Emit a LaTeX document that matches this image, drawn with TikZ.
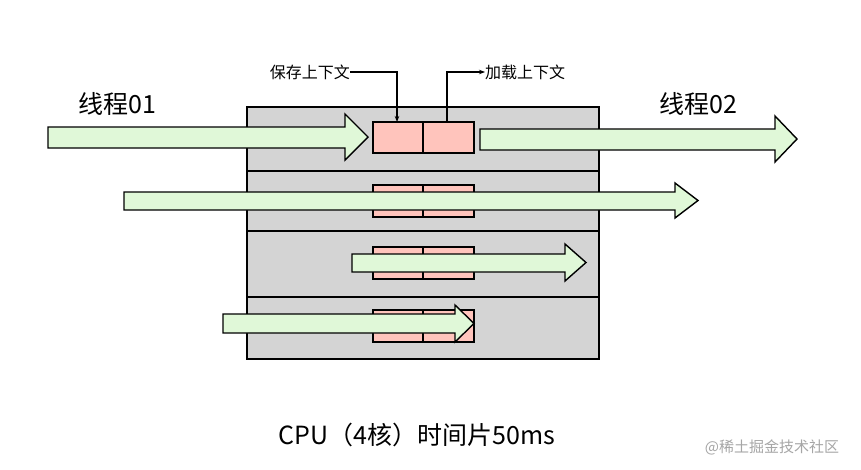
\documentclass[tikz,border=0pt]{standalone}
\usepackage{fontspec}
\setmainfont{Noto Sans CJK SC}
\usetikzlibrary{arrows.meta}
\definecolor{pk}{HTML}{FFC4BC}
\definecolor{gr}{HTML}{E0F8D8}
\definecolor{gy}{HTML}{D4D4D4}
\begin{document}
\begin{tikzpicture}[x=1pt,y=-1pt,
 row/.style={fill=gy,draw=black,line width=1.5pt},
 pbox/.style={fill=pk,draw=black,line width=1.4pt},
 arr/.style={fill=gr,draw=black,line width=1.4pt,line join=miter},
 lbl/.style={font=\fontsize{16}{18}\selectfont,inner sep=0pt},
 big/.style={font=\fontsize{25}{28}\selectfont,inner sep=0pt}]
\useasboundingbox (0,0) rectangle (861,469);
\fill[white] (0,0) rectangle (861,469);
\newcommand\fatarrow[7]{%
 \draw[arr] (#1,#4) -- (#2,#4) -- (#2,#6) -- (#3,{(#6+#7)/2}) -- (#2,#7) -- (#2,#5) -- (#1,#5) -- cycle;}
\draw[row] (247,107) rectangle (599,171);
\draw[row] (247,171) rectangle (599,231);
\draw[row] (247,231) rectangle (599,297);
\draw[row] (247,297) rectangle (599,359);
\foreach \a/\b in {122/153,185/217,247/279,310/342}{
 \draw[pbox] (373,\a) rectangle (423,\b);
 \draw[pbox] (423,\a) rectangle (474,\b);}
\coordinate (save) at (397,122);
\coordinate (load) at (447,122);
\fatarrow{48}{345}{368}{127}{148}{114}{160}
\draw[arr] (480,129) -- (775,129) -- (775,116) -- (797,139) -- (775,162) -- (775,150) -- (480,150) -- cycle;
\fatarrow{124}{675}{698}{192}{210}{183}{218}
\fatarrow{352}{565}{586}{254}{272}{244}{281}
\fatarrow{223}{455}{474}{314}{333}{305}{342}
\node[big] (t1) at (117,104) {线程01};
\node[big] (t2) at (698,104) {线程02};
\node[lbl,anchor=east] (s) at (350,72) {保存上下文};
\node[lbl,anchor=west] (l) at (485,72) {加载上下文};
\draw[line width=1.3pt,-{Stealth[length=6pt]}] (s.east) -| (save);
\draw[line width=1.3pt,-{Stealth[length=6pt]}] (load) |- (l.west);
\node[font=\fontsize{25}{28}\selectfont,inner sep=0pt] (cap) at (417,435) {CPU（4核）时间片50ms};
\node[font=\fontsize{15}{17}\selectfont,text=gray!70,inner sep=0pt] (wm) at (772,447) {@稀土掘金技术社区};
\end{tikzpicture}
\end{document}
